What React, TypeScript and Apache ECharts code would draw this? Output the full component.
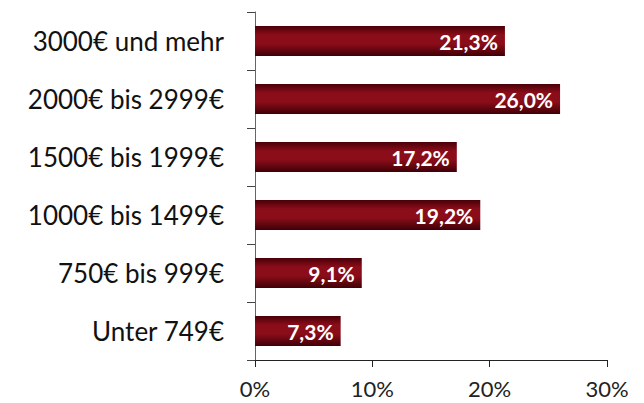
import React, { useEffect, useRef } from "react";
import * as echarts from "echarts";

const categories = [
  "Unter 749€",
  "750€ bis 999€",
  "1000€ bis 1499€",
  "1500€ bis 1999€",
  "2000€ bis 2999€",
  "3000€ und mehr",
];
const values = [7.3, 9.1, 19.2, 17.2, 26.0, 21.3];
const xTicks = [0, 10, 20, 30];

export default function App() {
  const ref = useRef<HTMLDivElement>(null);
  useEffect(() => {
    if (!ref.current) return;
    const chart = echarts.init(ref.current, null, { renderer: "svg" });
    const font = "Lato, 'Open Sans', sans-serif";
    chart.setOption({
      animation: false,
      grid: { left: 255, right: 37, top: 12, bottom: 43, containLabel: false },
      xAxis: {
        type: "value",
        min: xTicks[0],
        max: xTicks[xTicks.length - 1],
        interval: 10,
        splitLine: { show: false },
        axisLine: { show: true, lineStyle: { color: "#222", width: 1 } },
        axisTick: { show: true, length: 7, lineStyle: { color: "#222" } },
        axisLabel: {
          formatter: (v: number) => `${v}%`,
          color: "#222",
          fontSize: 22,
          fontFamily: font,
          margin: 17,
        },
      },
      yAxis: {
        type: "category",
        data: categories,
        axisLine: { show: true, lineStyle: { color: "#666", width: 1 } },
        axisTick: { show: true, length: 8, lineStyle: { color: "#444" } },
        axisLabel: {
          color: "#111",
          fontSize: 26,
          fontFamily: font,
          margin: 31,
        },
      },
      series: [
        {
          type: "bar",
          data: values,
          barWidth: 30,
          itemStyle: {
            color: new echarts.graphic.LinearGradient(0, 0, 0, 1, [
              { offset: 0, color: "#4a0008" },
              { offset: 0.3, color: "#8a0d19" },
              { offset: 0.6, color: "#8a0d19" },
              { offset: 1, color: "#3f0006" },
            ]),
          },
          label: {
            show: true,
            position: "insideRight",
            distance: 7,
            color: "#fff",
            fontWeight: "bold",
            fontSize: 21,
            fontFamily: font,
            formatter: (p: any) => `${p.value.toFixed(1).replace(".", ",")}%`,
          },
        },
      ],
    });
    return () => chart.dispose();
  }, []);
  return <div ref={ref} style={{ width: 644, height: 403, position: "absolute", left: 0, top: 0 }} />;
}
